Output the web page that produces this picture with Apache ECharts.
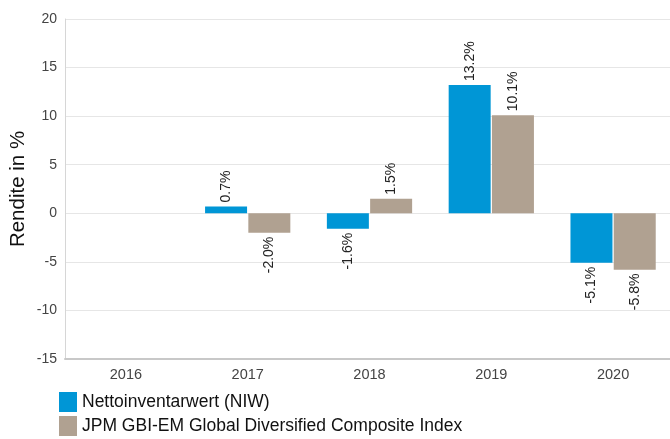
<!DOCTYPE html>
<html>
<head>
<meta charset="utf-8">
<script src="https://cdn.jsdelivr.net/npm/echarts@6/dist/echarts.min.js"></script>
<style>
  html, body { margin: 0; padding: 0; background: #fff; }
  #chart { width: 670px; height: 439px; }
</style>
</head>
<body>
<div id="chart"></div>
<script>
var years = ['2016', '2017', '2018', '2019', '2020'];
var niw = [null, 0.7, -1.6, 13.2, -5.1];
var bench = [null, -2.0, 1.5, 10.1, -5.8];
var seriesNames = ['Nettoinventarwert (NIW)', 'JPM GBI-EM Global Diversified Composite Index'];
var colors = ['#0096d6', '#b0a191'];

function withLabels(vals) {
  return vals.map(function (v) {
    if (v === null) return null;
    return {
      value: v,
      label: v >= 0
        ? { position: 'top', align: 'left', verticalAlign: 'middle' }
        : { position: 'bottom', align: 'right', verticalAlign: 'middle' }
    };
  });
}

var chart = echarts.init(document.getElementById('chart'));
var labelBase = {
  show: true,
  rotate: 90,
  distance: 4,
  fontSize: 14,
  color: '#222',
  fontFamily: 'Liberation Sans',
  formatter: function (p) { return p.value.toFixed(1) + '%'; }
};
chart.setOption({
  animation: false,
  textStyle: { fontFamily: 'Liberation Sans' },
  color: colors,
  grid: { left: 65, right: -4, top: 19, bottom: 80, outerBoundsMode: 'none' },
  legend: {
    orient: 'vertical',
    left: 59,
    top: 392,
    padding: 0,
    itemWidth: 18,
    itemHeight: 20,
    itemGap: 4,
    icon: 'rect',
    textStyle: { fontSize: 17.5, color: '#111' },
    data: seriesNames
  },
  xAxis: {
    type: 'category',
    data: years,
    axisLine: { onZero: false, lineStyle: { color: '#c8c8c8', width: 2 } },
    axisTick: { show: false },
    axisLabel: { fontSize: 14.5, color: '#444', margin: 8 }
  },
  yAxis: {
    type: 'value',
    min: -15,
    max: 20,
    interval: 5,
    name: 'Rendite in %',
    nameLocation: 'middle',
    nameGap: 36,
    nameMoveOverlap: false,
    nameTextStyle: { fontSize: 20.5, color: '#111' },
    axisLine: { show: true, lineStyle: { color: '#d6d6d6' } },
    axisTick: { show: false },
    axisLabel: { fontSize: 14, color: '#444', margin: 8 },
    splitLine: { lineStyle: { color: '#e6e6e6' } }
  },
  series: [
    {
      name: seriesNames[0],
      type: 'bar',
      data: withLabels(niw),
      barWidth: 42,
      barGap: '3%',
      label: labelBase
    },
    {
      name: seriesNames[1],
      type: 'bar',
      data: withLabels(bench),
      barWidth: 42,
      label: labelBase
    }
  ]
});
</script>
</body>
</html>
